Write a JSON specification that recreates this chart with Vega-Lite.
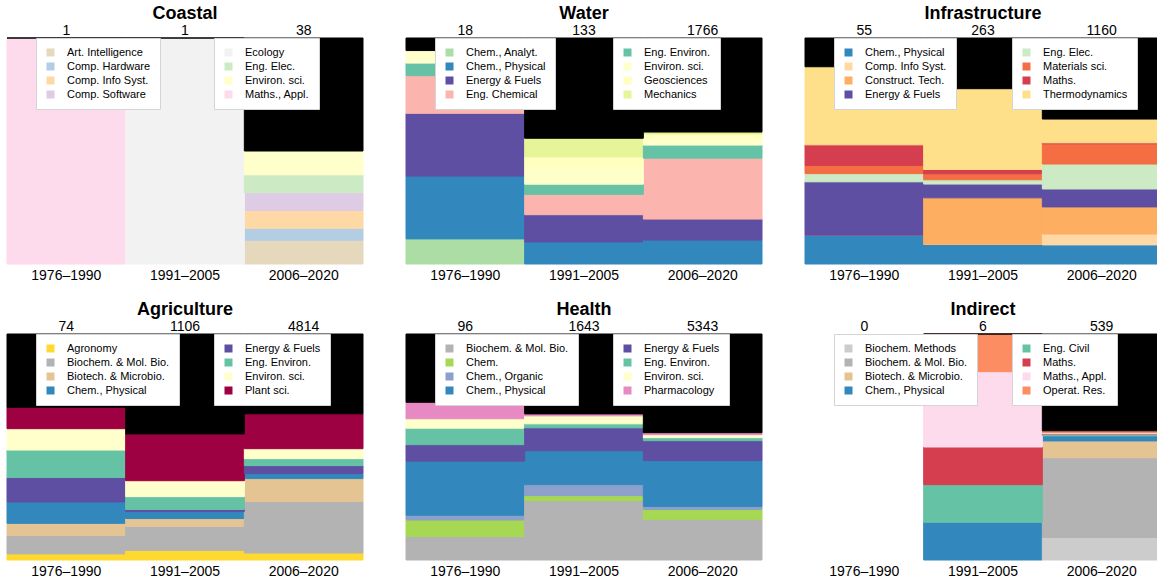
{
"$schema":"https://vega.github.io/schema/vega-lite/v6.json",
"background":"white",
"padding":{"left":6,"top":5,"right":0,"bottom":0},
"columns":3,
"spacing":{"row":19,"column":41},
"config":{
 "view":{"stroke":null},
 "axis":{"domain":false,"ticks":false,"grid":false,"labelFontSize":14,"labelFont":"Liberation Sans","labelColor":"black","labelPadding":4,"labelAngle":0},
 "title":{"font":"Liberation Sans","fontSize":18,"fontWeight":"bold","color":"black","offset":1,"frame":"group"},
 "text":{"font":"Liberation Sans","fontSize":14,"color":"black"},
 "legend":{"orient":"none","legendY":0,"fillColor":"white","strokeColor":"#d4d4d4","padding":9,"labelFont":"Liberation Sans","labelFontSize":11,"labelColor":"black","symbolType":"square","symbolSize":64,"symbolStrokeWidth":0,"rowPadding":2,"labelOffset":11}
},
"concat":[
{
 "width":356,"height":226,"title":{"text":"Coastal"},
 "data":{"values":[
  {"p":"1976–1990","c":"Maths., Appl.","n":1},
  {"p":"1976–1990","c":"Other","n":0},
  {"p":"1991–2005","c":"Ecology","n":1},
  {"p":"1991–2005","c":"Other","n":0},
  {"p":"2006–2020","c":"Art. Intelligence","n":4},
  {"p":"2006–2020","c":"Comp. Hardware","n":2},
  {"p":"2006–2020","c":"Comp. Info Syst.","n":3},
  {"p":"2006–2020","c":"Comp. Software","n":3},
  {"p":"2006–2020","c":"Eng. Elec.","n":3},
  {"p":"2006–2020","c":"Environ. sci.","n":4},
  {"p":"2006–2020","c":"Other","n":19}
 ]},
 "transform":[{"stack":"n","groupby":["p"],"offset":"normalize","as":["y0","y1"]}],
 "encoding":{"x":{"field":"p","type":"nominal","title":null,"scale":{"domain":["1976–1990","1991–2005","2006–2020"],"paddingInner":0,"paddingOuter":0}}},
 "layer":[
  {"transform":[{"filter":{"field":"c","oneOf":["Art. Intelligence","Comp. Hardware","Comp. Info Syst.","Comp. Software"]}}],
   "mark":{"type":"bar","strokeWidth":1},
   "encoding":{"y":{"field":"y0","type":"quantitative","scale":{"domain":[0,1],"nice":false},"axis":null},"y2":{"field":"y1"},
    "color":{"field":"c","type":"nominal","scale":{"domain":["Art. Intelligence","Comp. Hardware","Comp. Info Syst.","Comp. Software"],"range":["#e5d8bd","#b3cde3","#fed9a6","#decbe4"]},"legend":{"title":null,"legendX":29}},
    "stroke":{"field":"c","type":"nominal","scale":{"domain":["Art. Intelligence","Comp. Hardware","Comp. Info Syst.","Comp. Software"],"range":["#e5d8bd","#b3cde3","#fed9a6","#decbe4"]},"legend":null}}},
  {"transform":[{"filter":{"field":"c","oneOf":["Ecology","Eng. Elec.","Environ. sci.","Maths., Appl."]}}],
   "mark":{"type":"bar","strokeWidth":1},
   "encoding":{"y":{"field":"y0","type":"quantitative"},"y2":{"field":"y1"},
    "color":{"field":"c","type":"nominal","scale":{"domain":["Ecology","Eng. Elec.","Environ. sci.","Maths., Appl."],"range":["#f2f2f2","#ccebc5","#ffffcc","#fddaec"]},"legend":{"title":null,"legendX":207}},
    "stroke":{"field":"c","type":"nominal","scale":{"domain":["Ecology","Eng. Elec.","Environ. sci.","Maths., Appl."],"range":["#f2f2f2","#ccebc5","#ffffcc","#fddaec"]},"legend":null}}},
  {"transform":[{"filter":"datum.c === 'Other'"}],"mark":{"type":"bar","fill":"black","stroke":"black","strokeWidth":1},
   "encoding":{"y":{"field":"y0","type":"quantitative"},"y2":{"field":"y1"}}},
  {"transform":[{"aggregate":[{"op":"sum","field":"n","as":"tot"}],"groupby":["p"]}],
   "mark":{"type":"text","baseline":"alphabetic","dy":-3},
   "encoding":{"y":{"datum":1,"type":"quantitative"},"text":{"field":"tot","type":"quantitative","format":"d"}}}
 ],
 "resolve":{"scale":{"color":"independent","stroke":"independent"}}
},
{
 "width":356,"height":226,"title":{"text":"Water"},
 "data":{"values":[
  {"p":"1976–1990","c":"Chem., Analyt.","n":2},
  {"p":"1976–1990","c":"Chem., Physical","n":5},
  {"p":"1976–1990","c":"Energy & Fuels","n":5},
  {"p":"1976–1990","c":"Eng. Chemical","n":3},
  {"p":"1976–1990","c":"Eng. Environ.","n":1},
  {"p":"1976–1990","c":"Environ. sci.","n":1},
  {"p":"1976–1990","c":"Other","n":1},
  {"p":"1991–2005","c":"Chem., Physical","n":13},
  {"p":"1991–2005","c":"Energy & Fuels","n":16},
  {"p":"1991–2005","c":"Eng. Chemical","n":12},
  {"p":"1991–2005","c":"Eng. Environ.","n":6},
  {"p":"1991–2005","c":"Environ. sci.","n":9},
  {"p":"1991–2005","c":"Geosciences","n":7},
  {"p":"1991–2005","c":"Mechanics","n":11},
  {"p":"1991–2005","c":"Other","n":59},
  {"p":"2006–2020","c":"Chem., Physical","n":187},
  {"p":"2006–2020","c":"Energy & Fuels","n":164},
  {"p":"2006–2020","c":"Eng. Chemical","n":476},
  {"p":"2006–2020","c":"Eng. Environ.","n":102},
  {"p":"2006–2020","c":"Environ. sci.","n":55},
  {"p":"2006–2020","c":"Geosciences","n":31},
  {"p":"2006–2020","c":"Mechanics","n":16},
  {"p":"2006–2020","c":"Other","n":735}
 ]},
 "transform":[{"stack":"n","groupby":["p"],"offset":"normalize","as":["y0","y1"]}],
 "encoding":{"x":{"field":"p","type":"nominal","title":null,"scale":{"domain":["1976–1990","1991–2005","2006–2020"],"paddingInner":0,"paddingOuter":0}}},
 "layer":[
  {"transform":[{"filter":{"field":"c","oneOf":["Chem., Analyt.","Chem., Physical","Energy & Fuels","Eng. Chemical"]}}],
   "mark":{"type":"bar","strokeWidth":1},
   "encoding":{"y":{"field":"y0","type":"quantitative","scale":{"domain":[0,1],"nice":false},"axis":null},"y2":{"field":"y1"},
    "color":{"field":"c","type":"nominal","scale":{"domain":["Chem., Analyt.","Chem., Physical","Energy & Fuels","Eng. Chemical"],"range":["#abdda4","#3288bd","#5e4fa2","#fbb4ae"]},"legend":{"title":null,"legendX":29}},
    "stroke":{"field":"c","type":"nominal","scale":{"domain":["Chem., Analyt.","Chem., Physical","Energy & Fuels","Eng. Chemical"],"range":["#abdda4","#3288bd","#5e4fa2","#fbb4ae"]},"legend":null}}},
  {"transform":[{"filter":{"field":"c","oneOf":["Eng. Environ.","Environ. sci.","Geosciences","Mechanics"]}}],
   "mark":{"type":"bar","strokeWidth":1},
   "encoding":{"y":{"field":"y0","type":"quantitative"},"y2":{"field":"y1"},
    "color":{"field":"c","type":"nominal","scale":{"domain":["Eng. Environ.","Environ. sci.","Geosciences","Mechanics"],"range":["#66c2a5","#ffffcc","#ffffbf","#e6f598"]},"legend":{"title":null,"legendX":207}},
    "stroke":{"field":"c","type":"nominal","scale":{"domain":["Eng. Environ.","Environ. sci.","Geosciences","Mechanics"],"range":["#66c2a5","#ffffcc","#ffffbf","#e6f598"]},"legend":null}}},
  {"transform":[{"filter":"datum.c === 'Other'"}],"mark":{"type":"bar","fill":"black","stroke":"black","strokeWidth":1},
   "encoding":{"y":{"field":"y0","type":"quantitative"},"y2":{"field":"y1"}}},
  {"transform":[{"aggregate":[{"op":"sum","field":"n","as":"tot"}],"groupby":["p"]}],
   "mark":{"type":"text","baseline":"alphabetic","dy":-3},
   "encoding":{"y":{"datum":1,"type":"quantitative"},"text":{"field":"tot","type":"quantitative","format":"d"}}}
 ],
 "resolve":{"scale":{"color":"independent","stroke":"independent"}}
},
{
 "width":356,"height":226,"title":{"text":"Infrastructure"},
 "data":{"values":[
  {"p":"1976–1990","c":"Chem., Physical","n":7},
  {"p":"1976–1990","c":"Construct. Tech.","n":0},
  {"p":"1976–1990","c":"Energy & Fuels","n":13},
  {"p":"1976–1990","c":"Eng. Elec.","n":2},
  {"p":"1976–1990","c":"Materials sci.","n":2},
  {"p":"1976–1990","c":"Maths.","n":5},
  {"p":"1976–1990","c":"Thermodynamics","n":19},
  {"p":"1976–1990","c":"Other","n":7},
  {"p":"1991–2005","c":"Chem., Physical","n":23},
  {"p":"1991–2005","c":"Comp. Info Syst.","n":0},
  {"p":"1991–2005","c":"Construct. Tech.","n":54},
  {"p":"1991–2005","c":"Energy & Fuels","n":16},
  {"p":"1991–2005","c":"Eng. Elec.","n":5},
  {"p":"1991–2005","c":"Materials sci.","n":7},
  {"p":"1991–2005","c":"Maths.","n":5},
  {"p":"1991–2005","c":"Thermodynamics","n":94},
  {"p":"1991–2005","c":"Other","n":59},
  {"p":"2006–2020","c":"Chem., Physical","n":98},
  {"p":"2006–2020","c":"Comp. Info Syst.","n":56},
  {"p":"2006–2020","c":"Construct. Tech.","n":139},
  {"p":"2006–2020","c":"Energy & Fuels","n":92},
  {"p":"2006–2020","c":"Eng. Elec.","n":128},
  {"p":"2006–2020","c":"Materials sci.","n":104},
  {"p":"2006–2020","c":"Maths.","n":5},
  {"p":"2006–2020","c":"Thermodynamics","n":122},
  {"p":"2006–2020","c":"Other","n":416}
 ]},
 "transform":[{"stack":"n","groupby":["p"],"offset":"normalize","as":["y0","y1"]}],
 "encoding":{"x":{"field":"p","type":"nominal","title":null,"scale":{"domain":["1976–1990","1991–2005","2006–2020"],"paddingInner":0,"paddingOuter":0}}},
 "layer":[
  {"transform":[{"filter":{"field":"c","oneOf":["Chem., Physical","Comp. Info Syst.","Construct. Tech.","Energy & Fuels"]}}],
   "mark":{"type":"bar","strokeWidth":1},
   "encoding":{"y":{"field":"y0","type":"quantitative","scale":{"domain":[0,1],"nice":false},"axis":null},"y2":{"field":"y1"},
    "color":{"field":"c","type":"nominal","scale":{"domain":["Chem., Physical","Comp. Info Syst.","Construct. Tech.","Energy & Fuels"],"range":["#3288bd","#fed9a6","#fdae61","#5e4fa2"]},"legend":{"title":null,"legendX":29}},
    "stroke":{"field":"c","type":"nominal","scale":{"domain":["Chem., Physical","Comp. Info Syst.","Construct. Tech.","Energy & Fuels"],"range":["#3288bd","#fed9a6","#fdae61","#5e4fa2"]},"legend":null}}},
  {"transform":[{"filter":{"field":"c","oneOf":["Eng. Elec.","Materials sci.","Maths.","Thermodynamics"]}}],
   "mark":{"type":"bar","strokeWidth":1},
   "encoding":{"y":{"field":"y0","type":"quantitative"},"y2":{"field":"y1"},
    "color":{"field":"c","type":"nominal","scale":{"domain":["Eng. Elec.","Materials sci.","Maths.","Thermodynamics"],"range":["#ccebc5","#f46d43","#d53e4f","#fee08b"]},"legend":{"title":null,"legendX":207}},
    "stroke":{"field":"c","type":"nominal","scale":{"domain":["Eng. Elec.","Materials sci.","Maths.","Thermodynamics"],"range":["#ccebc5","#f46d43","#d53e4f","#fee08b"]},"legend":null}}},
  {"transform":[{"filter":"datum.c === 'Other'"}],"mark":{"type":"bar","fill":"black","stroke":"black","strokeWidth":1},
   "encoding":{"y":{"field":"y0","type":"quantitative"},"y2":{"field":"y1"}}},
  {"transform":[{"aggregate":[{"op":"sum","field":"n","as":"tot"}],"groupby":["p"]}],
   "mark":{"type":"text","baseline":"alphabetic","dy":-3},
   "encoding":{"y":{"datum":1,"type":"quantitative"},"text":{"field":"tot","type":"quantitative","format":"d"}}}
 ],
 "resolve":{"scale":{"color":"independent","stroke":"independent"}}
},
{
 "width":356,"height":226,"title":{"text":"Agriculture"},
 "data":{"values":[
  {"p":"1976–1990","c":"Agronomy","n":2},
  {"p":"1976–1990","c":"Biochem. & Mol. Bio.","n":6},
  {"p":"1976–1990","c":"Biotech. & Microbio.","n":4},
  {"p":"1976–1990","c":"Chem., Physical","n":7},
  {"p":"1976–1990","c":"Energy & Fuels","n":8},
  {"p":"1976–1990","c":"Eng. Environ.","n":9},
  {"p":"1976–1990","c":"Environ. sci.","n":7},
  {"p":"1976–1990","c":"Plant sci.","n":7},
  {"p":"1976–1990","c":"Other","n":24},
  {"p":"1991–2005","c":"Agronomy","n":47},
  {"p":"1991–2005","c":"Biochem. & Mol. Bio.","n":117},
  {"p":"1991–2005","c":"Biotech. & Microbio.","n":39},
  {"p":"1991–2005","c":"Chem., Physical","n":34},
  {"p":"1991–2005","c":"Energy & Fuels","n":10},
  {"p":"1991–2005","c":"Eng. Environ.","n":63},
  {"p":"1991–2005","c":"Environ. sci.","n":78},
  {"p":"1991–2005","c":"Plant sci.","n":229},
  {"p":"1991–2005","c":"Other","n":489},
  {"p":"2006–2020","c":"Agronomy","n":149},
  {"p":"2006–2020","c":"Biochem. & Mol. Bio.","n":1097},
  {"p":"2006–2020","c":"Biotech. & Microbio.","n":488},
  {"p":"2006–2020","c":"Chem., Physical","n":106},
  {"p":"2006–2020","c":"Energy & Fuels","n":170},
  {"p":"2006–2020","c":"Eng. Environ.","n":149},
  {"p":"2006–2020","c":"Environ. sci.","n":212},
  {"p":"2006–2020","c":"Plant sci.","n":743},
  {"p":"2006–2020","c":"Other","n":1700}
 ]},
 "transform":[{"stack":"n","groupby":["p"],"offset":"normalize","as":["y0","y1"]}],
 "encoding":{"x":{"field":"p","type":"nominal","title":null,"scale":{"domain":["1976–1990","1991–2005","2006–2020"],"paddingInner":0,"paddingOuter":0}}},
 "layer":[
  {"transform":[{"filter":{"field":"c","oneOf":["Agronomy","Biochem. & Mol. Bio.","Biotech. & Microbio.","Chem., Physical"]}}],
   "mark":{"type":"bar","strokeWidth":1},
   "encoding":{"y":{"field":"y0","type":"quantitative","scale":{"domain":[0,1],"nice":false},"axis":null},"y2":{"field":"y1"},
    "color":{"field":"c","type":"nominal","scale":{"domain":["Agronomy","Biochem. & Mol. Bio.","Biotech. & Microbio.","Chem., Physical"],"range":["#ffd92f","#b3b3b3","#e5c494","#3288bd"]},"legend":{"title":null,"legendX":29}},
    "stroke":{"field":"c","type":"nominal","scale":{"domain":["Agronomy","Biochem. & Mol. Bio.","Biotech. & Microbio.","Chem., Physical"],"range":["#ffd92f","#b3b3b3","#e5c494","#3288bd"]},"legend":null}}},
  {"transform":[{"filter":{"field":"c","oneOf":["Energy & Fuels","Eng. Environ.","Environ. sci.","Plant sci."]}}],
   "mark":{"type":"bar","strokeWidth":1},
   "encoding":{"y":{"field":"y0","type":"quantitative"},"y2":{"field":"y1"},
    "color":{"field":"c","type":"nominal","scale":{"domain":["Energy & Fuels","Eng. Environ.","Environ. sci.","Plant sci."],"range":["#5e4fa2","#66c2a5","#ffffcc","#9e0142"]},"legend":{"title":null,"legendX":207}},
    "stroke":{"field":"c","type":"nominal","scale":{"domain":["Energy & Fuels","Eng. Environ.","Environ. sci.","Plant sci."],"range":["#5e4fa2","#66c2a5","#ffffcc","#9e0142"]},"legend":null}}},
  {"transform":[{"filter":"datum.c === 'Other'"}],"mark":{"type":"bar","fill":"black","stroke":"black","strokeWidth":1},
   "encoding":{"y":{"field":"y0","type":"quantitative"},"y2":{"field":"y1"}}},
  {"transform":[{"aggregate":[{"op":"sum","field":"n","as":"tot"}],"groupby":["p"]}],
   "mark":{"type":"text","baseline":"alphabetic","dy":-3},
   "encoding":{"y":{"datum":1,"type":"quantitative"},"text":{"field":"tot","type":"quantitative","format":"d"}}}
 ],
 "resolve":{"scale":{"color":"independent","stroke":"independent"}}
},
{
 "width":356,"height":226,"title":{"text":"Health"},
 "data":{"values":[
  {"p":"1976–1990","c":"Biochem. & Mol. Bio.","n":10},
  {"p":"1976–1990","c":"Chem.","n":7},
  {"p":"1976–1990","c":"Chem., Organic","n":2},
  {"p":"1976–1990","c":"Chem., Physical","n":23},
  {"p":"1976–1990","c":"Energy & Fuels","n":7},
  {"p":"1976–1990","c":"Eng. Environ.","n":7},
  {"p":"1976–1990","c":"Environ. sci.","n":4},
  {"p":"1976–1990","c":"Pharmacology","n":7},
  {"p":"1976–1990","c":"Other","n":29},
  {"p":"1991–2005","c":"Biochem. & Mol. Bio.","n":432},
  {"p":"1991–2005","c":"Chem.","n":36},
  {"p":"1991–2005","c":"Chem., Organic","n":80},
  {"p":"1991–2005","c":"Chem., Physical","n":246},
  {"p":"1991–2005","c":"Energy & Fuels","n":167},
  {"p":"1991–2005","c":"Eng. Environ.","n":29},
  {"p":"1991–2005","c":"Environ. sci.","n":58},
  {"p":"1991–2005","c":"Pharmacology","n":14},
  {"p":"1991–2005","c":"Other","n":581},
  {"p":"2006–2020","c":"Biochem. & Mol. Bio.","n":959},
  {"p":"2006–2020","c":"Chem.","n":236},
  {"p":"2006–2020","c":"Chem., Organic","n":71},
  {"p":"2006–2020","c":"Chem., Physical","n":1084},
  {"p":"2006–2020","c":"Energy & Fuels","n":471},
  {"p":"2006–2020","c":"Eng. Environ.","n":71},
  {"p":"2006–2020","c":"Environ. sci.","n":71},
  {"p":"2006–2020","c":"Pharmacology","n":47},
  {"p":"2006–2020","c":"Other","n":2333}
 ]},
 "transform":[{"stack":"n","groupby":["p"],"offset":"normalize","as":["y0","y1"]}],
 "encoding":{"x":{"field":"p","type":"nominal","title":null,"scale":{"domain":["1976–1990","1991–2005","2006–2020"],"paddingInner":0,"paddingOuter":0}}},
 "layer":[
  {"transform":[{"filter":{"field":"c","oneOf":["Biochem. & Mol. Bio.","Chem.","Chem., Organic","Chem., Physical"]}}],
   "mark":{"type":"bar","strokeWidth":1},
   "encoding":{"y":{"field":"y0","type":"quantitative","scale":{"domain":[0,1],"nice":false},"axis":null},"y2":{"field":"y1"},
    "color":{"field":"c","type":"nominal","scale":{"domain":["Biochem. & Mol. Bio.","Chem.","Chem., Organic","Chem., Physical"],"range":["#b3b3b3","#a6d854","#8da0cb","#3288bd"]},"legend":{"title":null,"legendX":29}},
    "stroke":{"field":"c","type":"nominal","scale":{"domain":["Biochem. & Mol. Bio.","Chem.","Chem., Organic","Chem., Physical"],"range":["#b3b3b3","#a6d854","#8da0cb","#3288bd"]},"legend":null}}},
  {"transform":[{"filter":{"field":"c","oneOf":["Energy & Fuels","Eng. Environ.","Environ. sci.","Pharmacology"]}}],
   "mark":{"type":"bar","strokeWidth":1},
   "encoding":{"y":{"field":"y0","type":"quantitative"},"y2":{"field":"y1"},
    "color":{"field":"c","type":"nominal","scale":{"domain":["Energy & Fuels","Eng. Environ.","Environ. sci.","Pharmacology"],"range":["#5e4fa2","#66c2a5","#ffffcc","#e78ac3"]},"legend":{"title":null,"legendX":207}},
    "stroke":{"field":"c","type":"nominal","scale":{"domain":["Energy & Fuels","Eng. Environ.","Environ. sci.","Pharmacology"],"range":["#5e4fa2","#66c2a5","#ffffcc","#e78ac3"]},"legend":null}}},
  {"transform":[{"filter":"datum.c === 'Other'"}],"mark":{"type":"bar","fill":"black","stroke":"black","strokeWidth":1},
   "encoding":{"y":{"field":"y0","type":"quantitative"},"y2":{"field":"y1"}}},
  {"transform":[{"aggregate":[{"op":"sum","field":"n","as":"tot"}],"groupby":["p"]}],
   "mark":{"type":"text","baseline":"alphabetic","dy":-3},
   "encoding":{"y":{"datum":1,"type":"quantitative"},"text":{"field":"tot","type":"quantitative","format":"d"}}}
 ],
 "resolve":{"scale":{"color":"independent","stroke":"independent"}}
},
{
 "width":356,"height":226,"title":{"text":"Indirect"},
 "data":{"values":[
  {"p":"1976–1990","c":"Other","n":0},
  {"p":"1991–2005","c":"Chem., Physical","n":1},
  {"p":"1991–2005","c":"Eng. Civil","n":1},
  {"p":"1991–2005","c":"Maths.","n":1},
  {"p":"1991–2005","c":"Maths., Appl.","n":2},
  {"p":"1991–2005","c":"Operat. Res.","n":1},
  {"p":"1991–2005","c":"Other","n":0},
  {"p":"2006–2020","c":"Biochem. Methods","n":54},
  {"p":"2006–2020","c":"Biochem. & Mol. Bio.","n":190},
  {"p":"2006–2020","c":"Biotech. & Microbio.","n":40},
  {"p":"2006–2020","c":"Chem., Physical","n":12},
  {"p":"2006–2020","c":"Eng. Civil","n":4},
  {"p":"2006–2020","c":"Maths.","n":1},
  {"p":"2006–2020","c":"Maths., Appl.","n":3},
  {"p":"2006–2020","c":"Operat. Res.","n":4},
  {"p":"2006–2020","c":"Other","n":231}
 ]},
 "transform":[{"stack":"n","groupby":["p"],"offset":"normalize","as":["y0","y1"]}],
 "encoding":{"x":{"field":"p","type":"nominal","title":null,"scale":{"domain":["1976–1990","1991–2005","2006–2020"],"paddingInner":0,"paddingOuter":0}}},
 "layer":[
  {"transform":[{"filter":{"field":"c","oneOf":["Biochem. Methods","Biochem. & Mol. Bio.","Biotech. & Microbio.","Chem., Physical"]}}],
   "mark":{"type":"bar","strokeWidth":1},
   "encoding":{"y":{"field":"y0","type":"quantitative","scale":{"domain":[0,1],"nice":false},"axis":null},"y2":{"field":"y1"},
    "color":{"field":"c","type":"nominal","scale":{"domain":["Biochem. Methods","Biochem. & Mol. Bio.","Biotech. & Microbio.","Chem., Physical"],"range":["#cccccc","#b3b3b3","#e5c494","#3288bd"]},"legend":{"title":null,"legendX":29}},
    "stroke":{"field":"c","type":"nominal","scale":{"domain":["Biochem. Methods","Biochem. & Mol. Bio.","Biotech. & Microbio.","Chem., Physical"],"range":["#cccccc","#b3b3b3","#e5c494","#3288bd"]},"legend":null}}},
  {"transform":[{"filter":{"field":"c","oneOf":["Eng. Civil","Maths.","Maths., Appl.","Operat. Res."]}}],
   "mark":{"type":"bar","strokeWidth":1},
   "encoding":{"y":{"field":"y0","type":"quantitative"},"y2":{"field":"y1"},
    "color":{"field":"c","type":"nominal","scale":{"domain":["Eng. Civil","Maths.","Maths., Appl.","Operat. Res."],"range":["#66c2a5","#d53e4f","#fddaec","#fc8d62"]},"legend":{"title":null,"legendX":207}},
    "stroke":{"field":"c","type":"nominal","scale":{"domain":["Eng. Civil","Maths.","Maths., Appl.","Operat. Res."],"range":["#66c2a5","#d53e4f","#fddaec","#fc8d62"]},"legend":null}}},
  {"transform":[{"filter":"datum.c === 'Other' && isFinite(datum.y1)"}],"mark":{"type":"bar","fill":"black","stroke":"black","strokeWidth":1},
   "encoding":{"y":{"field":"y0","type":"quantitative"},"y2":{"field":"y1"}}},
  {"transform":[{"aggregate":[{"op":"sum","field":"n","as":"tot"}],"groupby":["p"]}],
   "mark":{"type":"text","baseline":"alphabetic","dy":-3},
   "encoding":{"y":{"datum":1,"type":"quantitative"},"text":{"field":"tot","type":"quantitative","format":"d"}}}
 ],
 "resolve":{"scale":{"color":"independent","stroke":"independent"}}
}
]
}
